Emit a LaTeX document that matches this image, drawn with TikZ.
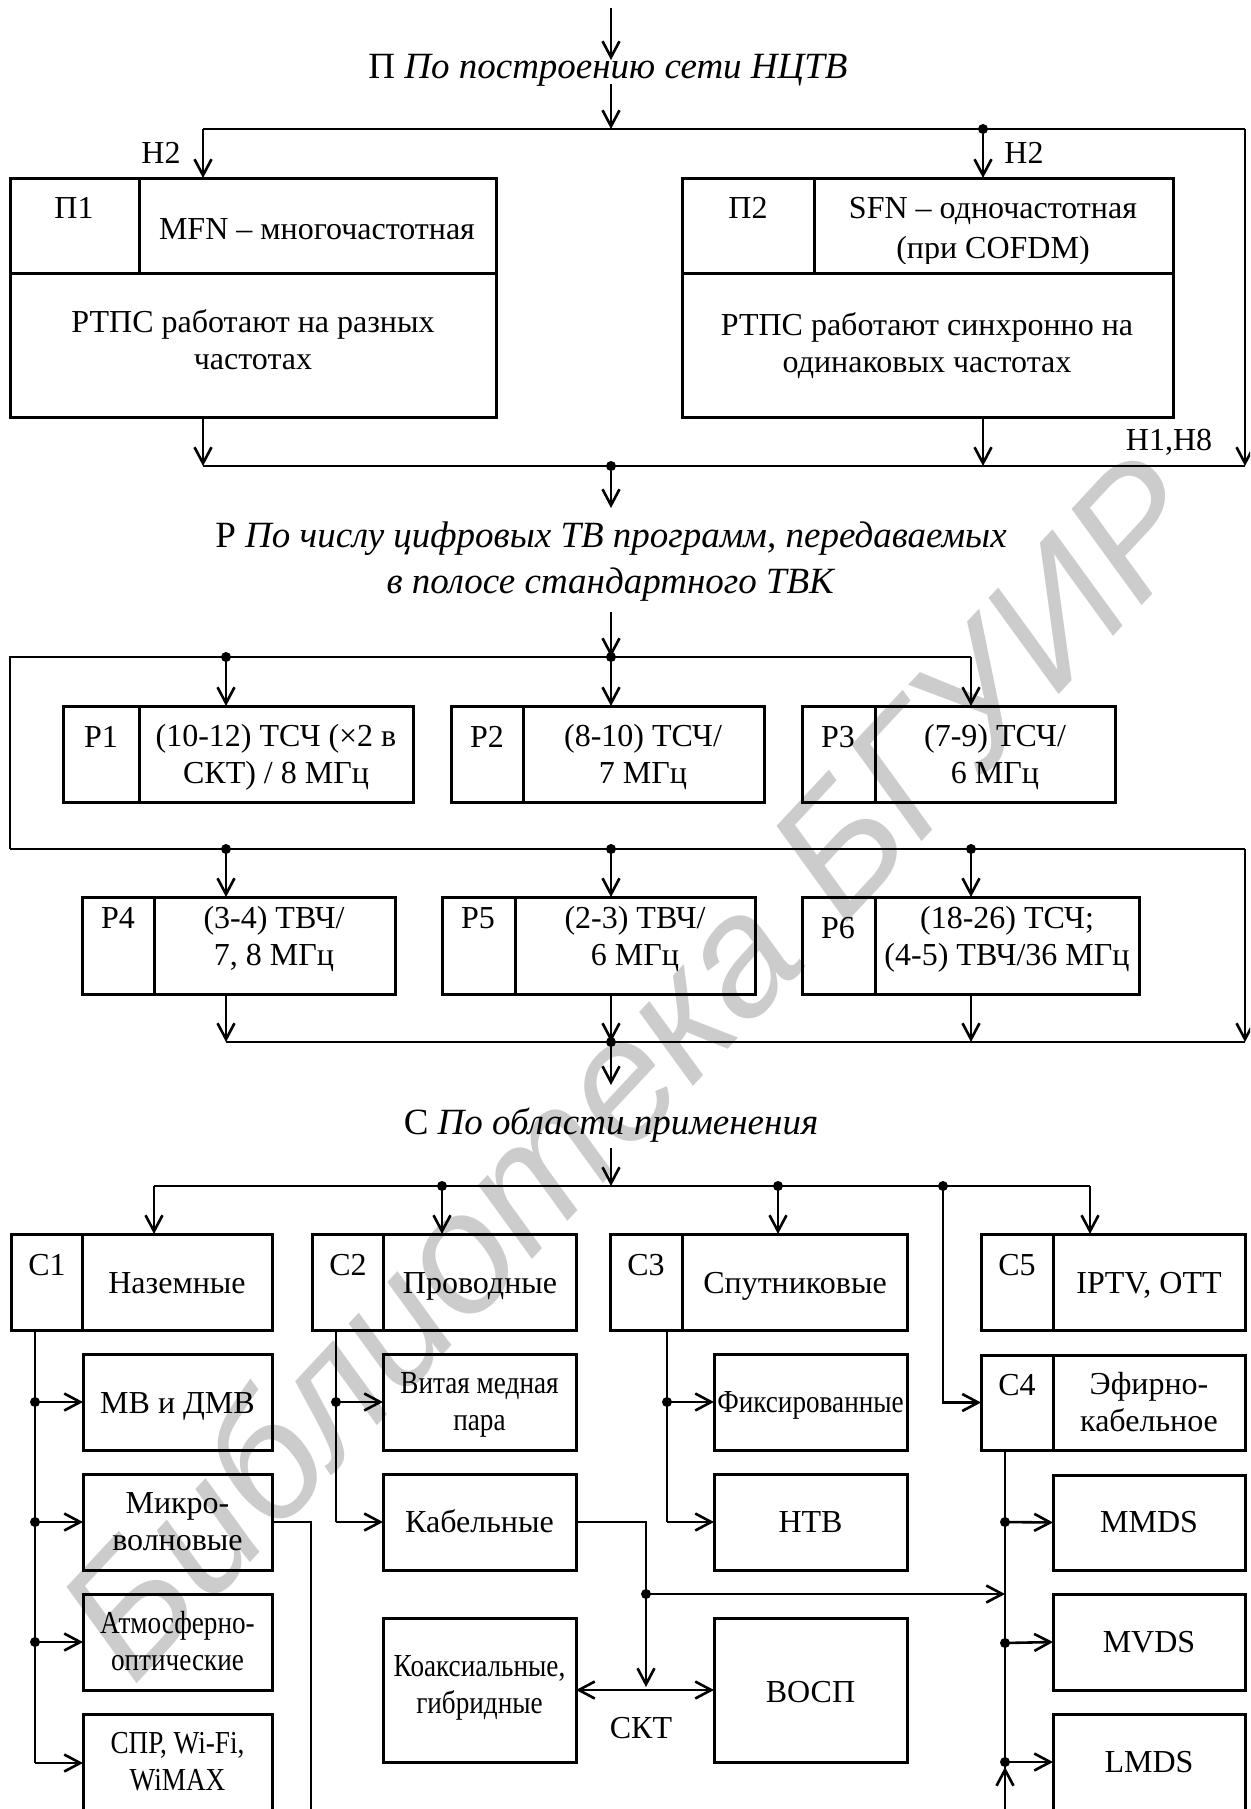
\documentclass[tikz,border=0pt]{standalone}
\usepackage{fontspec}
\setmainfont{Liberation Serif}
\newfontfamily\wmfont{Liberation Sans}
\usepackage{graphicx}
\usetikzlibrary{arrows.meta}
\newcommand\cn[1]{\scalebox{0.85}[1]{#1}}
\newcommand\bx[5]{%
 \pgfmathsetmacro\bw{#4-#2}\pgfmathsetmacro\bh{#5-#3}%
 \pgfmathsetmacro\bcx{(#2+#4)/2}\pgfmathsetmacro\bcy{(#3+#5)/2}%
 \node[box, minimum width=\bw pt, minimum height=\bh pt] (#1) at (\bcx,\bcy) {};}
\begin{document}
\begin{tikzpicture}[x=1pt,y=-1pt,
  box/.style={draw, line width=3pt, inner sep=0pt, outer sep=0pt},
  ln/.style={line width=2.6pt},
  dv/.style={line width=3pt},
  arr/.style={ln, -{Straight Barb[length=16pt,width=17pt]}},
  darr/.style={ln, {Straight Barb[length=16pt,width=17pt]}-{Straight Barb[length=16pt,width=17pt]}},
  dot/.style={circle, fill, inner sep=0pt, minimum size=10pt},
  txt/.style={inner sep=0pt, align=center, anchor=base, font=\fontsize{32}{37}\selectfont},
  hd/.style={inner sep=0pt, align=center, anchor=base, font=\fontsize{37}{46}\selectfont}
]
\clip (0,0) rectangle (1250,1809);
% watermark
\node[font=\wmfont\itshape\fontsize{170}{170}\selectfont, text=black!20, rotate=47] (wm) at (630,1065) {Библиотека БГУИР};

% ---------- section П ----------
\coordinate (top0) at (611,8);
\coordinate (h1in) at (611,60);
\node[hd] (h1) at (608,79) {П \textit{По построению сети НЦТВ}};
\coordinate (h1out) at (611,84);
\coordinate (aM) at (611,129);
\draw[arr] (top0) -- (h1in);
\draw[arr] (h1out) -- (aM);

\bx{pi1}{10}{178}{496}{417}
\bx{pi2}{682}{178}{1173}{417}
\draw[dv] (10,273) -- (496,273) (139,178) -- (139,273);
\draw[dv] (682,273) -- (1173,273) (814,178) -- (814,273);

\coordinate (aL) at (203,129);
\coordinate (aR) at (1245,129);
\node[dot] (aD) at (983,129) {};
\draw[ln] (aL) -- (aR);
\draw[arr] (aL) -- (pi1.north -| aL);
\draw[arr] (aD) -- (pi2.north -| aD);
\coordinate (bL) at (203,466);
\coordinate (bR) at (1245,466);
\coordinate (bD) at (983,466);
\node[dot] (bM) at (611,466) {};
\draw[arr] (aR) -- (bR);
\draw[arr] (pi1.south -| bL) -- (bL);
\draw[arr] (pi2.south -| bD) -- (bD);
\draw[ln] (bL) -- (bR);

\node[txt] (n2a) at (161,164) {Н2};
\node[txt] (n2b) at (1024,164) {Н2};
\node[txt] (n18) at (1169,450) {Н1,Н8};

\node[txt] (pi1l) at (74,218) {П1};
\node[txt] (pi1t) at (317,239) {MFN – многочастотная};
\node[txt] (pi1b) at (253,369) {РТПС работают на разных\\частотах};
\node[txt] (pi2l) at (748,218) {П2};
\begin{scope}
\clip (814,178) rectangle (1173,263);
\node[txt, font=\fontsize{32}{40}\selectfont] (pi2t) at (993,258) {SFN – одночастотная\\(при COFDM)};
\end{scope}
\node[txt] (pi2b) at (927,372) {РТПС работают синхронно на\\одинаковых частотах};

% ---------- section Р ----------
\coordinate (h2in) at (611,508);
\draw[arr] (bM) -- (h2in);
\node[hd] (h2) at (611,593) {Р \textit{По числу цифровых ТВ программ, передаваемых}\\\textit{в полосе стандартного ТВК}};
\coordinate (h2out) at (611,612);
\node[dot] (c2) at (611,657) {};
\draw[arr] (h2out) -- (c2.center);

\bx{r1}{63}{706}{413}{802}
\bx{r2}{451}{706}{764}{802}
\bx{r3}{802}{706}{1115}{802}
\bx{r4}{82}{897}{395}{994}
\bx{r5}{442}{897}{755}{994}
\bx{r6}{802}{897}{1139}{994}
\draw[dv] (139,706) -- (139,802) (523,706) -- (523,802) (875,706) -- (875,802);
\draw[dv] (154,897) -- (154,994) (515,897) -- (515,994) (875,897) -- (875,994);

\coordinate (cL) at (10,657);
\node[dot] (c1) at (226,657) {};
\coordinate (c3) at (971,657);
\coordinate (dL) at (10,849);
\node[dot] (d1) at (226,849) {};
\node[dot] (d2) at (611,849) {};
\node[dot] (d3) at (971,849) {};
\coordinate (dR) at (1245,849);
\draw[ln] (dL) -- (cL) -- (c3);
\draw[arr] (c1.center) -- (r1.north -| c1);
\draw[arr] (c2.center) -- (r2.north -| c2);
\draw[arr] (c3) -- (r3.north -| c3);
\draw[ln] (dL) -- (dR);
\draw[arr] (d1.center) -- (r4.north -| d1);
\draw[arr] (d2.center) -- (r5.north -| d2);
\draw[arr] (d3.center) -- (r6.north -| d3);
\coordinate (e1) at (226,1042);
\node[dot] (e2) at (611,1042) {};
\coordinate (e3) at (971,1042);
\coordinate (eR) at (1245,1042);
\draw[arr] (dR) -- (eR);
\draw[arr] (r4.south -| e1) -- (e1);
\draw[arr] (r5.south -| e2) -- (e2.center);
\draw[arr] (r6.south -| e3) -- (e3);
\draw[ln] (e1) -- (eR);

\node[txt] (r1l) at (101,747) {Р1};
\node[txt] (r1t) at (276,783) {(10-12) ТСЧ (×2 в\\СКТ) / 8 МГц};
\node[txt] (r2l) at (487,747) {Р2};
\node[txt] (r2t) at (643,783) {(8-10) ТСЧ/\\7 МГц};
\node[txt] (r3l) at (838,747) {Р3};
\node[txt] (r3t) at (995,783) {(7-9) ТСЧ/\\6 МГц};
\node[txt] (r4l) at (118,928) {Р4};
\node[txt] (r4t) at (274,965) {(3-4) ТВЧ/\\7, 8 МГц};
\node[txt] (r5l) at (478,928) {Р5};
\node[txt] (r5t) at (635,965) {(2-3) ТВЧ/\\6 МГц};
\node[txt] (r6l) at (838,938) {Р6};
\node[txt] (r6t) at (1007,965) {(18-26) ТСЧ;\\(4-5) ТВЧ/36 МГц};

% ---------- section С ----------
\coordinate (h3in) at (611,1085);
\draw[arr] (e2.center) -- (h3in);
\node[hd] (h3) at (611,1134) {С \textit{По области применения}};
\coordinate (h3out) at (611,1148);
\coordinate (fM) at (611,1186);
\draw[arr] (h3out) -- (fM);

\bx{s1}{11}{1234}{272}{1330}
\bx{s2}{312}{1234}{576}{1330}
\bx{s3}{610}{1234}{907}{1330}
\bx{s5}{981}{1234}{1245}{1330}
\bx{s4}{981}{1355}{1245}{1450}
\draw[dv] (82,1234) -- (82,1330) (383,1234) -- (383,1330) (682,1234) -- (682,1330) (1053,1234) -- (1053,1330) (1053,1355) -- (1053,1450);

\coordinate (f1) at (154,1186);
\node[dot] (f2) at (442,1186) {};
\node[dot] (f3) at (778,1186) {};
\node[dot] (f4) at (943,1186) {};
\coordinate (f5) at (1090,1186);
\draw[ln] (f1) -- (f5);
\draw[arr] (f1) -- (s1.north -| f1);
\draw[arr] (f2.center) -- (s2.north -| f2);
\draw[arr] (f3.center) -- (s3.north -| f3);
\draw[arr] (f5) -- (s5.north -| f5);
\draw[arr] (f4.center) |- (s4.west);

\node[txt] (s1l) at (47,1275) {С1};
\node[txt] (s1t) at (177,1293) {Наземные};
\node[txt] (s2l) at (348,1275) {С2};
\node[txt] (s2t) at (480,1293) {Проводные};
\node[txt] (s3l) at (646,1275) {С3};
\node[txt] (s3t) at (795,1293) {Спутниковые};
\node[txt] (s5l) at (1017,1275) {С5};
\node[txt] (s5t) at (1149,1293) {IPTV, OTT};
\node[txt] (s4l) at (1017,1395) {С4};
\node[txt] (s4t) at (1149,1431) {Эфирно-\\кабельное};

% column 1
\bx{mb}{83}{1354}{272}{1450}
\bx{mk}{83}{1474}{272}{1570}
\bx{at}{83}{1594}{272}{1690}
\bx{sp}{83}{1714}{272}{1850}
\coordinate (g0) at (35,1330);
\node[dot] (g1) at (35,1402) {};
\node[dot] (g2) at (35,1522) {};
\node[dot] (g3) at (35,1642) {};
\coordinate (g4) at (35,1763);
\draw[ln] (g0) -- (g4);
\draw[arr] (g1.center) -- (mb.west);
\draw[arr] (g2.center) -- (mk.west);
\draw[arr] (g3.center) -- (at.west);
\draw[arr] (g4) -- (g4 -| sp.west);
\coordinate (mkend) at (311,1815);
\draw[ln] (mk.east) -| (mkend);
\node[txt] (mbt) at (177.5,1413) {МВ и ДМВ};
\node[txt] (mkt) at (177.5,1550) {Микро-\\волновые};
\node[txt] (att) at (177.5,1670) {\cn{Атмосферно-}\\\cn{оптические}};
\node[txt] (spt) at (177.5,1790) {\cn{СПР, Wi-Fi,}\\\cn{WiMAX}};

% column 2
\bx{vm}{383}{1354}{576}{1450}
\bx{kb}{383}{1474}{576}{1570}
\bx{kx}{383}{1618}{576}{1762}
\coordinate (k0) at (336,1330);
\node[dot] (k1) at (336,1402) {};
\coordinate (k2) at (336,1522);
\draw[ln] (k0) -- (k2);
\draw[arr] (k1.center) -- (vm.west);
\draw[arr] (k2) -- (kb.west);
\node[txt] (vmt) at (479.5,1430) {\cn{Витая медная}\\\cn{пара}};
\node[txt] (kbt) at (479.5,1532) {Кабельные};
\node[txt] (kxt) at (479.5,1713) {\cn{Коаксиальные,}\\\cn{гибридные}};

% column 3
\bx{fx}{714}{1354}{907}{1450}
\bx{nt}{714}{1474}{907}{1570}
\bx{vo}{714}{1618}{907}{1762}
\coordinate (m0) at (667,1330);
\node[dot] (m1) at (667,1402) {};
\coordinate (m2) at (667,1522);
\draw[ln] (m0) -- (m2);
\draw[arr] (m1.center) -- (fx.west);
\draw[arr] (m2) -- (nt.west);
\node[txt] (fxt) at (810.5,1412) {\cn{Фиксированные}};
\node[txt] (ntt) at (810.5,1532) {НТВ};
\node[txt] (vot) at (810.5,1702) {ВОСП};

% cable connections
\node[dot] (kj) at (646,1594) {};
\coordinate (ktip) at (646,1687);
\draw[ln] (kb.east) -| (kj.center);
\draw[arr] (kj.center) -- (ktip);
\draw[darr] (kx.east) -- (vo.west);
\node[txt] (skt) at (641,1738) {СКТ};

% column 5
\bx{mm}{1053}{1475}{1245}{1570}
\bx{mv}{1053}{1594}{1245}{1690}
\bx{lm}{1053}{1714}{1245}{1850}
\coordinate (t0) at (1005,1450);
\node[dot] (t1) at (1005,1522) {};
\node[dot] (t2) at (1005,1643) {};
\node[dot] (t3) at (1005,1762) {};
\coordinate (tb) at (1005,1815);
\coordinate (tup) at (1005,1767);
\draw[ln] (t0) -- (tb);
\draw[arr] (tb) -- (tup);
\draw[arr] (t1.center) -- (mm.west);
\draw[arr] (t2.center) -- (mv.west);
\draw[arr] (t3.center) -- (lm.west |- t3);
\draw[arr] (kj.center) -- (kj -| t0);
\node[txt] (mmt) at (1149,1532) {MMDS};
\node[txt] (mvt) at (1149,1652) {MVDS};
\node[txt] (lmt) at (1149,1772) {LMDS};
\end{tikzpicture}
\end{document}
